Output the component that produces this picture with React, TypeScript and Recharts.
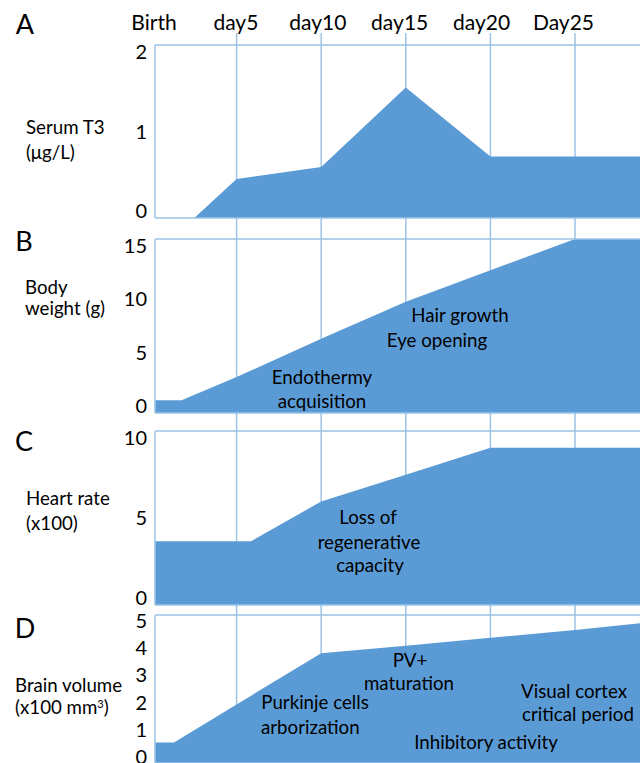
import React from 'react';
import { AreaChart, Area, LineChart, XAxis, YAxis, ReferenceLine } from 'recharts';

// shared x axis: days after birth
const dayTicks = [0, 5, 10, 15, 20, 25];
const dayLabels = ['Birth', 'day5', 'day10', 'day15', 'day20', 'Day25'];
const gridDays = [5, 10, 15, 20, 25];

// A - serum T3 (µg/L)
const t3Days = [0, 2.5, 5, 10, 15, 20, 25, 29];
const t3Values = [0, 0, 0.45, 0.59, 1.51, 0.71, 0.71, 0.71];
const t3Ticks = [0, 1, 2];

// B - body weight (g)
const weightDays = [0, 1.75, 5, 10, 15, 20, 25, 29];
const weightValues = [1.1, 1.1, 3.1, 6.4, 9.6, 12.3, 15, 15];
const weightTicks = [0, 5, 10, 15];

// C - heart rate (x100)
const heartDays = [0, 5.85, 10, 15, 20, 25, 29];
const heartValues = [3.66, 3.66, 5.95, 7.49, 9.04, 9.04, 9.04];
const heartTicks = [0, 5, 10];

// D - brain volume (x100 mm3)
const brainDays = [0, 1.3, 5, 10, 15, 20, 25, 29];
const brainValues = [0.69, 0.69, 1.98, 3.71, 3.96, 4.23, 4.49, 4.73];
const brainTicks = [0, 1, 2, 3, 4, 5];

const FONT = 'Lato, "Open Sans", sans-serif';
const FILL = '#5B9BD5';
const LINE = '#9DC3E6';
const X_START = 0.18;
const X_END = 28.84;
const PAD = 12;

const DayTick = (props: any) => {
  const { x, payload } = props;
  const label = dayLabels[dayTicks.indexOf(payload.value)];
  return (
    <text x={154 + (x - 152) * 0.968} y={30} textAnchor="middle" fontSize={21} fontFamily={FONT} fill="#000">
      {label}
    </text>
  );
};

interface PanelProps {
  top: number;
  height: number;
  days: number[];
  values: number[];
  max: number;
  ticks: number[];
}

const Panel = ({ top, height, days, values, max, ticks }: PanelProps) => {
  const data = days.map((d, i) => ({ day: d, value: values[i] }));
  const mid = PAD + height / 2;
  // tick labels sit a little inside the frame, as in the original
  const renderTick = (props: any) => {
    const { x, y, payload } = props;
    return (
      <text x={x} y={mid + (y - mid) * 0.92} dy={7} textAnchor="end" fontSize={20} fontFamily={FONT} fill="#000">
        {payload.value}
      </text>
    );
  };
  return (
    <div style={{ position: 'absolute', left: 0, top: top - PAD }}>
      <AreaChart width={640} height={height + 2 * PAD} data={data} margin={{ top: PAD, right: 0, bottom: PAD, left: 95 }}>
        <XAxis dataKey="day" type="number" domain={[X_START, X_END]} allowDataOverflow hide />
        <YAxis
          type="number"
          domain={[0, max]}
          ticks={ticks}
          interval={0}
          width={60}
          axisLine={false}
          tickLine={false}
          tick={renderTick}
        />
        <Area type="linear" dataKey="value" stroke="none" fill={FILL} fillOpacity={1} isAnimationActive={false} />
        <ReferenceLine y={max} stroke={LINE} strokeWidth={1.5} />
        <ReferenceLine y={0} stroke={LINE} strokeWidth={1.5} />
        <ReferenceLine x={X_START} stroke={LINE} strokeWidth={1.5} />
      </AreaChart>
    </div>
  );
};

const Note = ({ x, y, size = 18.7, align = 'center', children }: any) => (
  <div
    style={{
      position: 'absolute',
      left: x,
      top: y,
      transform: align === 'center' ? 'translate(-50%, -50%)' : 'translate(0, -50%)',
      fontFamily: FONT,
      fontSize: size,
      lineHeight: 1,
      whiteSpace: 'nowrap',
      color: '#000',
    }}
  >
    {children}
  </div>
);

export default function App() {
  return (
    <div style={{ position: 'absolute', left: 0, top: 0, width: 640, height: 763, background: '#fff', overflow: 'hidden' }}>
      {/* background: day labels and vertical grid running through all panels */}
      <div style={{ position: 'absolute', left: 0, top: 0 }}>
        <LineChart width={640} height={763} data={dayTicks.map((d) => ({ day: d }))} margin={{ top: 3, right: 0, bottom: 0, left: 152 }}>
          <XAxis
            dataKey="day"
            type="number"
            domain={[0, X_END]}
            allowDataOverflow
            orientation="top"
            ticks={dayTicks}
            interval={0}
            height={30}
            axisLine={false}
            tickLine={false}
            tick={DayTick}
          />
          <YAxis hide type="number" domain={[0, 1]} allowDataOverflow />
          {gridDays.map((d) => (
            <ReferenceLine key={d} x={d} stroke={LINE} strokeWidth={1.5} />
          ))}
        </LineChart>
      </div>

      <Panel top={45} height={173} days={t3Days} values={t3Values} max={2} ticks={t3Ticks} />
      <Panel top={238.5} height={174} days={weightDays} values={weightValues} max={15} ticks={weightTicks} />
      <Panel top={430.7} height={174} days={heartDays} values={heartValues} max={10} ticks={heartTicks} />
      <Panel top={615} height={148} days={brainDays} values={brainValues} max={5} ticks={brainTicks} />

      {/* panel letters */}
      <Note x={25} y={23} size={27}>A</Note>
      <Note x={24} y={240} size={27}>B</Note>
      <Note x={24} y={440} size={27}>C</Note>
      <Note x={25} y={627} size={27}>D</Note>

      {/* axis titles */}
      <Note x={26} y={127} align="left">Serum T3</Note>
      <Note x={26} y={152} align="left">(μg/L)</Note>
      <Note x={25} y={287} align="left">Body</Note>
      <Note x={25} y={308} align="left">weight (g)</Note>
      <Note x={26} y={498} align="left">Heart rate</Note>
      <Note x={26} y={523} align="left">(x100)</Note>
      <Note x={15} y={685} align="left">Brain volume</Note>
      <Note x={15} y={707} align="left">
        (x100 mm<span style={{ fontSize: 11, verticalAlign: 6 }}>3</span>)
      </Note>

      {/* developmental events */}
      <Note x={460} y={315}>Hair growth</Note>
      <Note x={437} y={340}>Eye opening</Note>
      <Note x={322} y={377}>Endothermy</Note>
      <Note x={322} y={401}>acquisition</Note>

      <Note x={368} y={517}>Loss of</Note>
      <Note x={369} y={542}>regenerative</Note>
      <Note x={370} y={565}>capacity</Note>

      <Note x={410} y={660}>PV+</Note>
      <Note x={409} y={683}>maturation</Note>
      <Note x={315} y={702}>Purkinje cells</Note>
      <Note x={261} y={727} align="left">arborization</Note>
      <Note x={574} y={691}>Visual cortex</Note>
      <Note x={578} y={714}>critical period</Note>
      <Note x={486} y={742}>Inhibitory activity</Note>
    </div>
  );
}
